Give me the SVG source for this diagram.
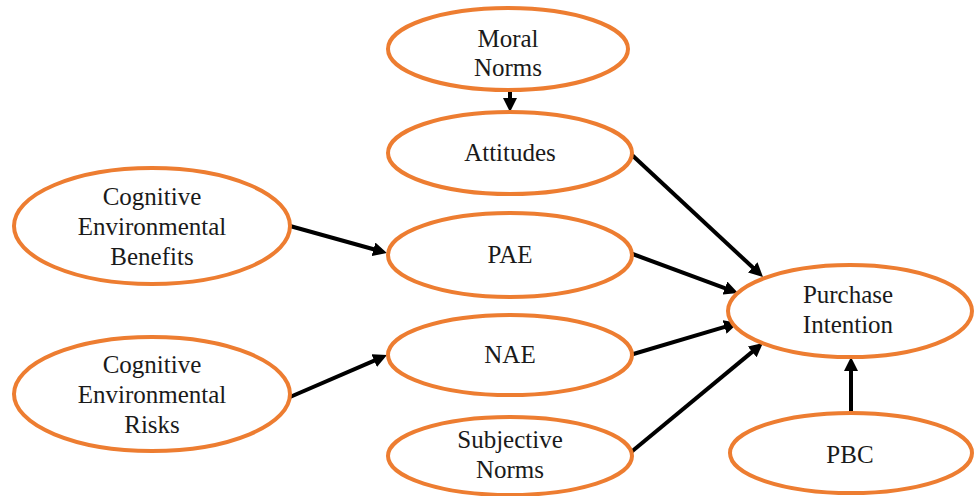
<svg xmlns="http://www.w3.org/2000/svg" width="974" height="496" viewBox="0 0 974 496" font-family="Liberation Serif, Times New Roman, Times, serif">
<style>
.n{fill:#fff;stroke:#ED7D31;stroke-width:4}
.t{font-size:25px;fill:#1a1a1a;text-anchor:middle}
.e{stroke:#000;stroke-width:4;fill:none;marker-end:url(#ah)}
</style>
<defs>
<marker id="ah" markerUnits="userSpaceOnUse" markerWidth="14" markerHeight="14" refX="2" refY="7" orient="auto" viewBox="0 0 14 14">
<path d="M0,0 L14,7 L0,14 z" fill="#000"/>
</marker>
</defs>
<rect width="974" height="496" fill="#fff"/>
<g id="connectors">
<line class="e" x1="510" y1="90" x2="510" y2="100"/>
<line class="e" x1="290" y1="226" x2="375.4" y2="249.8"/>
<line class="e" x1="290" y1="397" x2="376" y2="359.8"/>
<line class="e" x1="632" y1="155" x2="754.2" y2="268.8"/>
<line class="e" x1="630" y1="253" x2="726.8" y2="288.8"/>
<line class="e" x1="630" y1="355" x2="726.5" y2="326.4"/>
<line class="e" x1="630" y1="453" x2="753.7" y2="350.6"/>
<line class="e" x1="851" y1="413" x2="851" y2="369"/>
</g>
<g id="moral-norms">
<ellipse class="n" cx="508" cy="49" rx="120" ry="41"/>
<text class="t" x="508" y="47">Moral</text>
<text class="t" x="508" y="76">Norms</text>
</g>
<g id="attitudes">
<ellipse class="n" cx="510" cy="153" rx="122" ry="41"/>
<text class="t" x="510" y="161">Attitudes</text>
</g>
<g id="ceb">
<ellipse class="n" cx="152" cy="226" rx="138" ry="58"/>
<text class="t" x="152" y="205">Cognitive</text>
<text class="t" x="152" y="235">Environmental</text>
<text class="t" x="152" y="265">Benefits</text>
</g>
<g id="pae">
<ellipse class="n" cx="510" cy="255" rx="122" ry="42"/>
<text class="t" x="510" y="263">PAE</text>
</g>
<g id="cer">
<ellipse class="n" cx="152" cy="394" rx="138" ry="57"/>
<text class="t" x="152" y="373">Cognitive</text>
<text class="t" x="152" y="403">Environmental</text>
<text class="t" x="152" y="433">Risks</text>
</g>
<g id="nae">
<ellipse class="n" cx="510" cy="355" rx="122" ry="40"/>
<text class="t" x="510" y="363">NAE</text>
</g>
<g id="subjective-norms">
<ellipse class="n" cx="510" cy="456" rx="122" ry="39"/>
<text class="t" x="510" y="448">Subjective</text>
<text class="t" x="510" y="478">Norms</text>
</g>
<g id="purchase-intention">
<ellipse class="n" cx="850" cy="311" rx="122" ry="46"/>
<text class="t" x="848" y="303">Purchase</text>
<text class="t" x="848" y="333">Intention</text>
</g>
<g id="pbc">
<ellipse class="n" cx="851" cy="453" rx="121" ry="40"/>
<text class="t" x="850" y="463">PBC</text>
</g>
</svg>
